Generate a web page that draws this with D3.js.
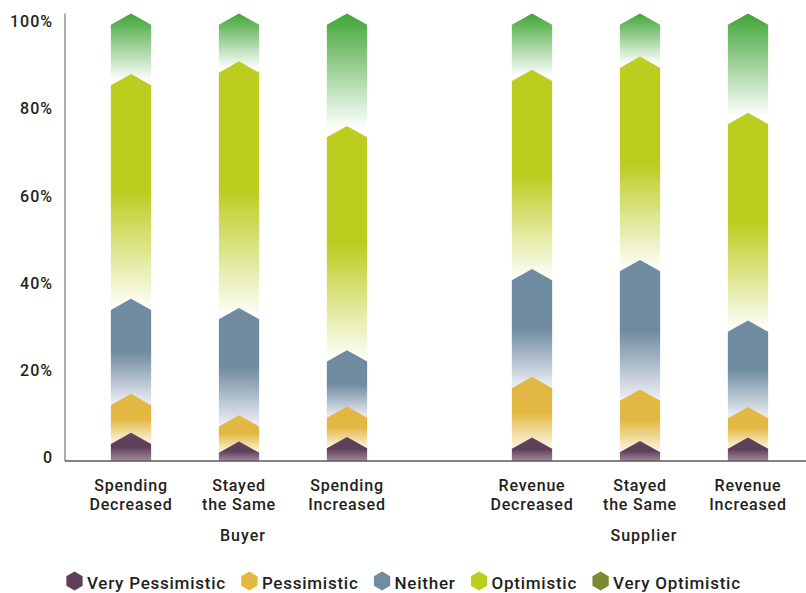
<!DOCTYPE html>
<html><head><meta charset="utf-8">
<script src="https://cdn.jsdelivr.net/npm/d3@7"></script>
<style>
body{margin:0;background:#fff;}
svg text{font-family:Roboto,"Open Sans",sans-serif;font-weight:500;fill:#231f20;}
</style></head><body>
<svg id="chart" width="806" height="593"></svg>
<script>
// ---- data ----
const groups = ["Buyer", "Supplier"];
const barGroups = ["Buyer", "Buyer", "Buyer", "Supplier", "Supplier", "Supplier"];
const barLabels = [
  ["Spending", "Decreased"], ["Stayed", "the Same"], ["Spending", "Increased"],
  ["Revenue", "Decreased"], ["Stayed", "the Same"], ["Revenue", "Increased"]
];
const series = ["Very Pessimistic", "Pessimistic", "Neither", "Optimistic", "Very Optimistic"];
const veryPessimistic = [3.9, 1.9, 2.9, 2.8, 2.0, 2.8];
const pessimistic     = [8.9, 6.0, 7.0, 13.9, 11.8, 7.0];
const neither         = [21.8, 24.6, 12.9, 24.7, 29.7, 19.8];
const optimistic      = [51.5, 56.5, 51.4, 45.7, 46.6, 47.6];
const veryOptimistic  = [13.9, 11.0, 25.8, 12.9, 9.9, 22.8];
const yTicks = [0, 20, 40, 60, 80, 100];
const yTickLabels = ["0", "20%", "40%", "60%", "80%", "100%"];

// ---- styles ----
const barColors = {
  "Very Pessimistic": ["#5e405b", "#5e405b", "#a08a9d"],
  "Pessimistic": ["#e3b842", "#e3b842", "#fdf8ea"],
  "Neither": ["#6f8ba0", "#6f8ba0", "#f0f1f8"],
  "Optimistic": ["#bccd20", "#bccd20", "#ffffff"],
  "Very Optimistic": ["#3fa535", "#ffffff"]
};
const legendColors = {
  "Very Pessimistic": "#5e405b", "Pessimistic": "#e4b73e", "Neither": "#6e8ca2",
  "Optimistic": "#bccd1e", "Very Optimistic": "#798a31"
};

const seriesValues = [veryPessimistic, pessimistic, neither, optimistic, veryOptimistic];
const rows = barGroups.map((g, i) => {
  const r = { i, group: g, sub: barGroups.slice(0, i).filter(x => x === g).length };
  series.forEach((s, k) => r[s] = seriesValues[k][i]);
  return r;
});

const svg = d3.select("#chart");
const defs = svg.append("defs");

const y = d3.scaleLinear().domain([0, 100]).range([461, 24.7]);
const xGroup = d3.scalePoint().domain(groups).range([239, 640]);
const xSub = d3.scaleBand().domain([0, 1, 2]).range([-162, 162]).paddingInner(0.627).paddingOuter(0.3135);
const bw = xSub.bandwidth();
const capH = bw / 2 * 0.562;
const cx = d => xGroup(d.data.group) + xSub(d.data.sub) + bw / 2;

// gradients
series.forEach((s, k) => {
  const g = defs.append("linearGradient").attr("id", "grad" + k)
    .attr("x1", 0).attr("y1", 0).attr("x2", 0).attr("y2", 1);
  const c = barColors[s];
  const stops = c.length === 3 ? [[0, c[0]], [0.5, c[1]], [1, c[2]]] : [[0, c[0]], [0.93, c[1]], [1, c[1]]];
  stops.forEach(([o, col]) => g.append("stop").attr("offset", o).attr("stop-color", col));
});

const stacked = d3.stack().keys(series)(rows);

// y axis line
svg.append("line").attr("x1", 65).attr("x2", 65).attr("y1", y(100) - capH).attr("y2", y(0))
  .attr("stroke", "#8a8a8a").attr("stroke-width", 1.4);

// bars: draw top series first so lower caps overlap
const layers = svg.append("g").selectAll("g").data(stacked.slice().reverse()).join("g")
  .attr("fill", d => "url(#grad" + series.indexOf(d.key) + ")");
layers.selectAll("path").data(d => d).join("path")
  .attr("d", d => {
    const c = cx(d), x0 = c - bw / 2, x1 = c + bw / 2;
    const yb = y(d[0]), yt = y(d[1]);
    return `M${x0},${yb}L${x0},${yt}L${c},${yt - capH}L${x1},${yt}L${x1},${yb}Z`;
  });

// baseline
svg.append("line").attr("x1", 65).attr("x2", 806).attr("y1", y(0)).attr("y2", y(0))
  .attr("stroke", "#5a5a5a").attr("stroke-width", 1.6);

// y axis labels
const yAxis = d3.axisLeft(y).tickValues(yTicks).tickSize(0).tickPadding(12)
  .tickFormat((d, i) => yTickLabels[i]);
const ya = svg.append("g").attr("transform", "translate(65,0)").call(yAxis);
ya.select(".domain").remove();
ya.selectAll("text").attr("dy", "0.12em")
  .style("font-family", "Roboto,sans-serif").style("font-weight", 500)
  .style("font-size", "16px").style("letter-spacing", "1px").attr("fill", "#231f20");

// category labels
const catG = svg.append("g");
rows.forEach(r => {
  const c = xGroup(r.group) + xSub(r.sub) + bw / 2;
  barLabels[r.i].forEach((line, j) => {
    catG.append("text").attr("text-anchor", "middle")
      .attr("x", c).attr("y", 490.8 + j * 18.8)
      .style("font-size", "16px").style("letter-spacing", "0.8px").text(line);
  });
});
// group labels
svg.append("g").selectAll("text").data(groups).join("text")
  .attr("x", d => xGroup(d) + 4).attr("y", 540.5).attr("text-anchor", "middle")
  .style("font-size", "16px").style("letter-spacing", "1px").text(d => d);

// legend
const hex = r => d3.range(6).map(k => {
  const a = Math.PI / 3 * k - Math.PI / 2;
  return [r * Math.cos(a), r * Math.sin(a)];
});
let lx = 66;
const lg = svg.append("g");
series.forEach(s => {
  lg.append("polygon").attr("points", hex(9.4).map(p => [p[0] + lx + 8.5, p[1] + 581].join(",")).join(" "))
    .attr("fill", legendColors[s]);
  const t = lg.append("text").attr("x", lx + 21).attr("y", 589)
    .style("font-size", "17px").style("letter-spacing", "0.75px").text(s);
  const w = t.node().getComputedTextLength();
  lx = lx + 21 + w + 15;
});
</script>
</body></html>
